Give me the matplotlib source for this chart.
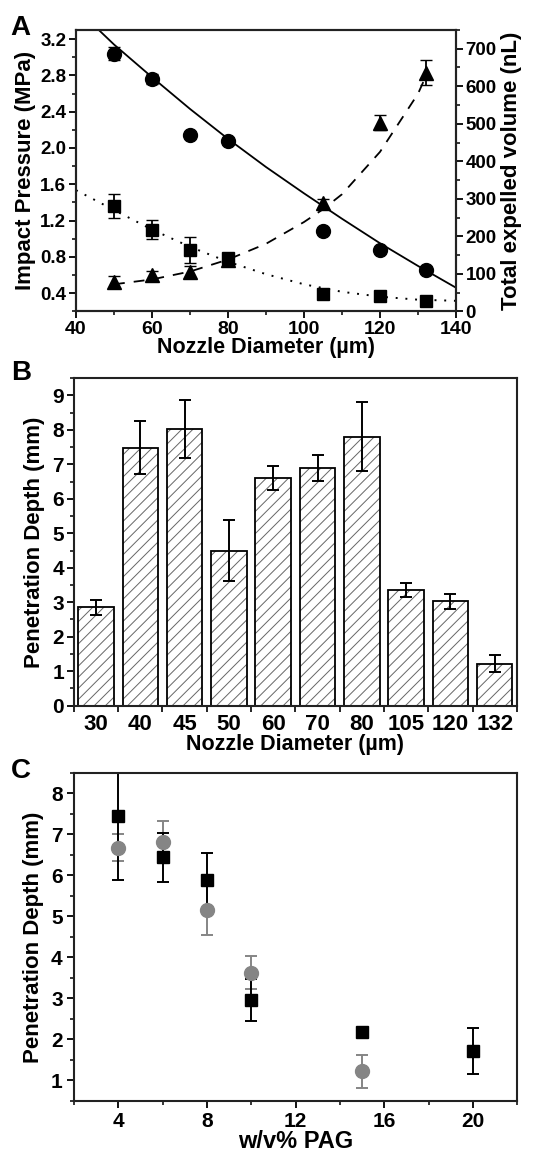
import matplotlib
matplotlib.use("Agg")
import matplotlib.pyplot as plt
import numpy as np
from matplotlib.ticker import MultipleLocator, FixedLocator

plt.rcParams['font.family'] = ['Liberation Sans', 'DejaVu Sans']
plt.rcParams['font.weight'] = 'bold'
plt.rcParams['axes.labelweight'] = 'bold'
plt.rcParams['axes.linewidth'] = 1.5
plt.rcParams['axes.edgecolor'] = '#222222'
plt.rcParams['hatch.linewidth'] = 0.7
plt.rcParams['hatch.color'] = '#666666'

# ---- panel A data
nozzle_a = [50, 60, 70, 80, 105, 120, 132]
pressure = [3.04, 2.76, 2.14, 2.08, 1.09, 0.88, 0.66]
pressure_err = [0.07, 0.05, 0, 0, 0, 0, 0]
vol_sq = [281, 218, 163, 141, 47, 40, 27]
vol_sq_err = [33, 25, 35, 8, 0, 0, 0]
vol_tri = [78, 96, 105, 136, 288, 503, 636]
vol_tri_err = [15, 12, 15, 12, 12, 20, 33]
# fitted curves
fit_p_x = [46, 50, 60, 70, 80, 90, 100, 110, 120, 130, 140]
fit_p_y = [3.30, 3.14, 2.78, 2.43, 2.10, 1.79, 1.50, 1.22, 0.95, 0.70, 0.46]
fit_sq_x = [40, 50, 60, 70, 80, 90, 100, 110, 120, 130, 140]
fit_sq_y = [323, 270, 218, 172, 132, 99, 72, 52, 39, 31, 28]
fit_tri_x = [50, 60, 70, 80, 90, 100, 105, 110, 120, 130, 132]
fit_tri_y = [72, 85, 106, 138, 180, 238, 272, 312, 425, 580, 625]

# ---- panel B data
nozzle_b = ['30', '40', '45', '50', '60', '70', '80', '105', '120', '132']
depth_b = [2.85, 7.48, 8.03, 4.50, 6.60, 6.90, 7.80, 3.35, 3.03, 1.22]
depth_b_err = [0.22, 0.77, 0.85, 0.88, 0.35, 0.38, 1.00, 0.20, 0.22, 0.25]

# ---- panel C data
pag_sq = [4, 6, 8, 10, 15, 20]
depth_sq = [7.45, 6.44, 5.88, 2.96, 2.18, 1.72]
depth_sq_err = [1.55, 0.60, 0.67, 0.52, 0.0, 0.56]
pag_ci = [4, 6, 8, 10, 15]
depth_ci = [6.68, 6.82, 5.15, 3.63, 1.22]
depth_ci_err = [0.33, 0.52, 0.60, 0.41, 0.41]

fig = plt.figure(figsize=(5.39, 11.53), dpi=100)

# ================= A
ax = fig.add_axes([0.141, 0.730, 0.705, 0.244])
ax2 = ax.twinx()
ax.plot(fit_p_x, fit_p_y, 'k-', lw=1.3)
ax.errorbar(nozzle_a, pressure, yerr=pressure_err, fmt='o', color='k', ms=10, capsize=4, elinewidth=1.3)
ax2.plot(fit_sq_x, fit_sq_y, 'k', ls=(0, (1, 4)), lw=1.4)
ax2.plot(fit_tri_x, fit_tri_y, 'k', ls=(0, (6, 5)), lw=1.3)
ax2.errorbar(nozzle_a, vol_sq, yerr=vol_sq_err, fmt='s', color='k', ms=8, capsize=4, elinewidth=1.3)
ax2.errorbar(nozzle_a, vol_tri, yerr=vol_tri_err, fmt='^', color='k', ms=10, capsize=4, elinewidth=1.3)
ax.set_xlim(40, 140)
ax.set_ylim(0.2, 3.3)
ax2.set_ylim(0, 750)
ax.xaxis.set_major_locator(MultipleLocator(20))
ax.xaxis.set_minor_locator(MultipleLocator(10))
ax.yaxis.set_major_locator(MultipleLocator(0.4))
ax.yaxis.set_minor_locator(MultipleLocator(0.2))
ax.yaxis.set_major_formatter(matplotlib.ticker.FormatStrFormatter('%.1f'))
ax2.yaxis.set_major_locator(MultipleLocator(100))
ax2.yaxis.set_minor_locator(MultipleLocator(50))
ax.tick_params(axis='y', labelsize=13.5, pad=2)
ax.tick_params(axis='x', labelsize=14, pad=2)
ax2.tick_params(axis='y', labelsize=13.5, pad=2)
for a in (ax, ax2):
    a.tick_params(which='major', length=5, width=1.3, direction='out')
    a.tick_params(which='minor', length=3, width=1.1, direction='out')
ax.set_xlabel('Nozzle Diameter (µm)', fontsize=15.5, labelpad=-1)
ax.set_ylabel('Impact Pressure (MPa)', fontsize=16, labelpad=3)
ax2.set_ylabel('Total expelled volume (nL)', fontsize=16, labelpad=3)
fig.text(0.02, 0.987, 'A', fontsize=20, fontweight='bold', va='top')

# ================= B
bx = fig.add_axes([0.137, 0.388, 0.822, 0.284])
pos = np.arange(len(nozzle_b))
bx.bar(pos, depth_b, width=0.8, color='white', edgecolor='#666666', hatch='///', lw=0)
bx.bar(pos, depth_b, width=0.8, fill=False, edgecolor='k', lw=1.3)
bx.errorbar(pos, depth_b, yerr=depth_b_err, fmt='none', ecolor='k', capsize=4, elinewidth=1.4, capthick=1.4)
bx.set_xlim(-0.5, 9.5)
bx.set_ylim(0, 9.5)
bx.set_xticks(pos)
bx.set_xticklabels(nozzle_b)
bx.xaxis.set_minor_locator(FixedLocator(np.arange(-0.5, 10, 1)))
bx.yaxis.set_major_locator(MultipleLocator(1))
bx.yaxis.set_minor_locator(MultipleLocator(0.5))
bx.tick_params(axis='x', which='major', length=0, labelsize=16, pad=6)
bx.tick_params(axis='x', which='minor', length=4, width=1.2)
bx.tick_params(axis='y', which='major', length=5, width=1.3, labelsize=15, pad=2)
bx.tick_params(axis='y', which='minor', length=3, width=1.1)
bx.set_xlabel('Nozzle Diameter (µm)', fontsize=15.5, labelpad=-1)
bx.set_ylabel('Penetration Depth (mm)', fontsize=16, labelpad=5)
fig.text(0.02, 0.688, 'B', fontsize=20, fontweight='bold', va='top')

# ================= C
cx = fig.add_axes([0.137, 0.0451, 0.823, 0.2845])
cx.errorbar(pag_ci, depth_ci, yerr=depth_ci_err, fmt='o', color='#858585', ms=10, capsize=4, elinewidth=1.4, capthick=1.4)
cx.errorbar(pag_sq, depth_sq, yerr=depth_sq_err, fmt='s', color='k', ms=8.5, capsize=4, elinewidth=1.4, capthick=1.4)
cx.set_xlim(2, 22)
cx.set_ylim(0.5, 8.5)
cx.xaxis.set_major_locator(MultipleLocator(4))
cx.xaxis.set_minor_locator(MultipleLocator(2))
cx.yaxis.set_major_locator(MultipleLocator(1))
cx.yaxis.set_minor_locator(MultipleLocator(0.5))
cx.tick_params(which='major', length=5, width=1.3, labelsize=15, pad=3)
cx.tick_params(which='minor', length=3, width=1.1)
cx.set_xlabel('w/v% PAG', fontsize=17, labelpad=-1)
cx.set_ylabel('Penetration Depth (mm)', fontsize=16, labelpad=5)
fig.text(0.02, 0.343, 'C', fontsize=20, fontweight='bold', va='top')

fig.savefig('out.png', dpi=100)
